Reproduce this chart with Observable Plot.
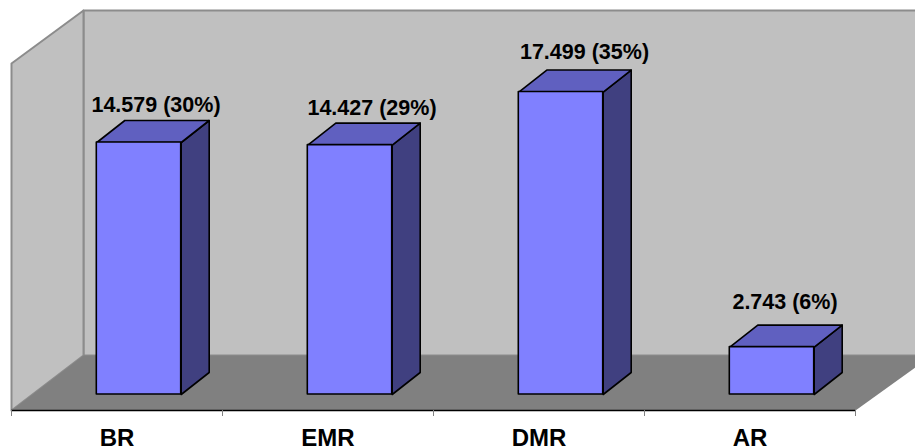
<!DOCTYPE html>
<html>
<head>
<meta charset="utf-8">
<script src="https://cdn.jsdelivr.net/npm/d3@7"></script>
<script src="https://cdn.jsdelivr.net/npm/@observablehq/plot@0.6"></script>
<style>html,body{margin:0;padding:0;background:#fff}svg{display:block}</style>
</head>
<body>
<div id="chart"></div>
<script>
// Data
const categories = ["BR", "EMR", "DMR", "AR"];
const values = [14.579, 14.427, 17.499, 2.743];
const valueLabels = ["14.579 (30%)", "14.427 (29%)", "17.499 (35%)", "2.743 (6%)"];

// Layout: one x unit = one category step, y unit = the value axis
const stepPx = 211, unitPx = 17.285;
const floorDx = 72 / stepPx, floorDy = 55 / unitPx, wallTopDy = 53 / unitPx;
const barDx = 28 / stepPx, barDy = 22 / unitPx;
const gapX = 22 / stepPx, gapY = 16 / unitPx;
const barHalf = 0.2;
const xMin = -0.5, xMax = 3.5, xBleed = 3.79;
const yMin = -gapY, yMax = yMin + 400 / unitPx;
const labelShiftX = [17, 22, 23.5, 13];
const labelShiftY = [-15, -15, -18, -23];

const rows = categories.map((c, i) => ({
  c, i, v: values[i], label: valueLabels[i],
  x1: i - barHalf + gapX, x2: i + barHalf + gapX
}));
const poly = pts => pts.concat([pts[0]]).map(([x, y]) => ({x, y}));
const faces = fn => rows.flatMap(r => fn(r).map(p => ({...p, z: r.c})));

const sideFaces = faces(r => poly([[r.x2, 0], [r.x2 + barDx, barDy], [r.x2 + barDx, r.v + barDy], [r.x2, r.v]]));
const topFaces = faces(r => poly([[r.x1, r.v], [r.x1 + barDx, r.v + barDy], [r.x2 + barDx, r.v + barDy], [r.x2, r.v]]));
const backWall = poly([[xMin + floorDx, yMin + floorDy], [xMin + floorDx, yMax], [xBleed, yMax], [xBleed, yMin + floorDy]]);
const leftWall = poly([[xMin, yMin], [xMin, yMax - wallTopDy], [xMin + floorDx, yMax], [xMin + floorDx, yMin + floorDy]]);
const floor = poly([[xMin, yMin], [xMin + floorDx, yMin + floorDy], [xBleed, yMin + floorDy], [xBleed, yMin + floorDy * 0.8], [xMax, yMin]]);

const wallStyle = {x: "x", y: "y", fill: "#C0C0C0", stroke: "#8C8C8C", strokeWidth: 2};
const edge = {stroke: "#000", strokeWidth: 1.6, strokeLinejoin: "round"};
const font = {fontFamily: "Liberation Sans", fontWeight: "bold"};

const chart = Plot.plot({
  width: 915, height: 448,
  marginLeft: 11, marginRight: 60, marginTop: 10, marginBottom: 38,
  style: {background: "#fff", fontFamily: "Liberation Sans", color: "#000", overflow: "hidden"},
  x: {type: "linear", domain: [xMin, xMax], axis: null},
  y: {type: "linear", domain: [yMin, yMax], axis: null},
  marks: [
    Plot.line(backWall, wallStyle),
    Plot.line(leftWall, wallStyle),
    Plot.line(floor, {x: "x", y: "y", fill: "#808080", stroke: "none"}),
    Plot.ruleY([yMin], {x1: xMin, x2: xMax, stroke: "#000", strokeWidth: 1.5}),
    Plot.axisX({ticks: d3.range(xMin, xMax + 1), tickSize: 6, tickFormat: () => "", stroke: "#808080", anchor: "bottom", label: null}),
    Plot.axisX({ticks: [0, 1, 2, 3], tickSize: 0, tickPadding: 18, tickFormat: i => categories[i], anchor: "bottom", fontSize: 24, fontWeight: "bold", fill: "#000", label: null}),
    Plot.line(sideFaces, {x: "x", y: "y", z: "z", fill: "#404080", ...edge}),
    Plot.line(topFaces, {x: "x", y: "y", z: "z", fill: "#6060C0", ...edge}),
    Plot.rect(rows, {x1: "x1", x2: "x2", y1: () => 0, y2: "v", fill: "#8080FF", ...edge}),
    ...rows.map(r => Plot.text([r], {
      x: d => (d.x1 + d.x2) / 2 + labelShiftX[d.i] / stepPx,
      y: d => d.v + barDy,
      text: "label", dy: labelShiftY[r.i], fontSize: 21.5, fill: "#000", ...font
    }))
  ]
});
document.getElementById("chart").append(chart);
</script>
</body>
</html>
